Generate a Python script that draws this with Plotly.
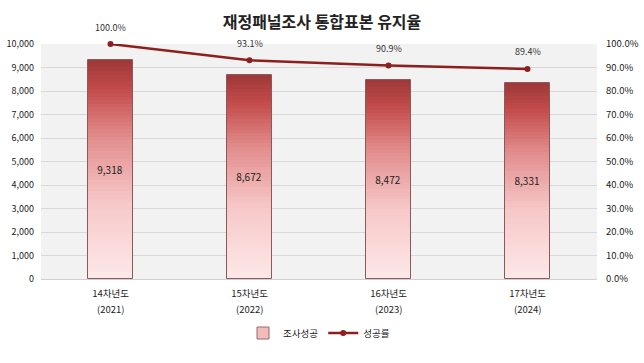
import numpy as np
import plotly.graph_objects as go

# ---- data ----
waves = ["14차년도", "15차년도", "16차년도", "17차년도"]
years = ["(2021)", "(2022)", "(2023)", "(2024)"]
success_counts = [9318, 8672, 8472, 8331]
retention_rate = [1.000, 0.931, 0.909, 0.894]
left_ticks = list(range(0, 10001, 1000))
right_ticks = [i / 10 for i in range(0, 11)]

# gradient stops: fraction of bar height (0 = bottom, 1 = top)
grad_stops = [(0.0, (253, 232, 232)), (0.35, (247, 200, 200)), (0.65, (226, 140, 140)),
              (0.86, (196, 76, 76)), (1.0, (158, 56, 56))]


def grad_color(f):
    for (f0, c0), (f1, c1) in zip(grad_stops[:-1], grad_stops[1:]):
        if f0 <= f <= f1:
            t = (f - f0) / (f1 - f0) if f1 > f0 else 0
            c = [round(a + (b - a) * t) for a, b in zip(c0, c1)]
            return "rgb(%d,%d,%d)" % tuple(c)
    return "rgb(%d,%d,%d)" % grad_stops[-1][1]


FONT = "Noto Sans CJK KR"
BAR_W = 0.32
N = 60
vals = np.array(success_counts, dtype=float)

fig = go.Figure()

# gradient bars built from stacked slices
for k in range(N):
    base = vals * k / N
    top = np.minimum(vals * (k + 1.6) / N, vals)
    fig.add_trace(go.Bar(
        x=waves, y=top - base, base=base, width=BAR_W,
        marker=dict(color=grad_color((k + 0.5) / N), line=dict(width=0)),
        showlegend=False, hoverinfo="skip", legendgroup="bars",
    ))

# outline + value labels
fig.add_trace(go.Bar(
    x=waves, y=success_counts, width=BAR_W,
    marker=dict(color="rgba(0,0,0,0)", line=dict(color="#8a5a5a", width=1)),
    text=[f"{v:,}" for v in success_counts], textposition="inside",
    insidetextanchor="middle", textfont=dict(family=FONT, size=10, color="#222222"),
    showlegend=False, legendgroup="bars", name="조사성공",
))

# legend entry for bars
fig.add_trace(go.Bar(
    x=waves, y=[None] * len(waves), name="조사성공",
    marker=dict(color="#f2bcbc", line=dict(color="#9a6a6a", width=1)),
    legendgroup="bars",
))

# retention line
fig.add_trace(go.Scatter(
    x=waves, y=retention_rate, yaxis="y2", name="성공률",
    mode="lines+markers",
    line=dict(color="#8e1f1f", width=2.5),
    marker=dict(color="#8e1f1f", size=6),
    cliponaxis=False,
))

annotations = []
for w, r in zip(waves, retention_rate):
    annotations.append(dict(x=w, y=r, xref="x", yref="y2", text=f"{r*100:.1f}%",
                            showarrow=False, yshift=17,
                            font=dict(family=FONT, size=9, color="#333333")))
for w, yr in zip(waves, years):
    annotations.append(dict(x=w, y=-30 / 235, xref="x", yref="paper", text=yr,
                            showarrow=False, yanchor="middle",
                            font=dict(family=FONT, size=9.5, color="#222222")))

fig.update_layout(
    width=644, height=363,
    margin=dict(l=41, r=47, t=44, b=84, autoexpand=False),
    paper_bgcolor="white", plot_bgcolor="#f2f2f2",
    barmode="overlay", bargap=0,
    font=dict(family=FONT, size=9, color="#222222"),
    title=dict(text="<b>재정패널조사 통합표본 유지율</b>", x=0.5, xanchor="center",
               y=1 - 22 / 363, yanchor="middle",
               font=dict(family=FONT, size=16, color="#222222")),
    xaxis=dict(showgrid=False, showline=True, linecolor="#d0d0d0", ticks="",
               ticklabelstandoff=6,
               tickfont=dict(family=FONT, size=9.5, color="#222222")),
    yaxis=dict(range=[0, 10000], tickvals=left_ticks, tickformat=",d",
               gridcolor="#d9d9d9", gridwidth=1, zeroline=False,
               ticks="", ticklabelstandoff=6,
               tickfont=dict(family=FONT, size=9, color="#222222")),
    yaxis2=dict(range=[0, 1], tickvals=right_ticks, tickformat=".1%",
                overlaying="y", side="right", showgrid=False, zeroline=False,
                ticks="", ticklabelstandoff=8,
                tickfont=dict(family=FONT, size=9.5, color="#222222")),
    legend=dict(orientation="h", x=0.5, xanchor="center", y=-54 / 235, yanchor="middle",
                font=dict(family=FONT, size=9.5, color="#222222"),
                traceorder="normal"),
    annotations=annotations,
)

fig.write_html("out.html", config={"displayModeBar": False},
               post_script="document.body.style.margin='0';")
